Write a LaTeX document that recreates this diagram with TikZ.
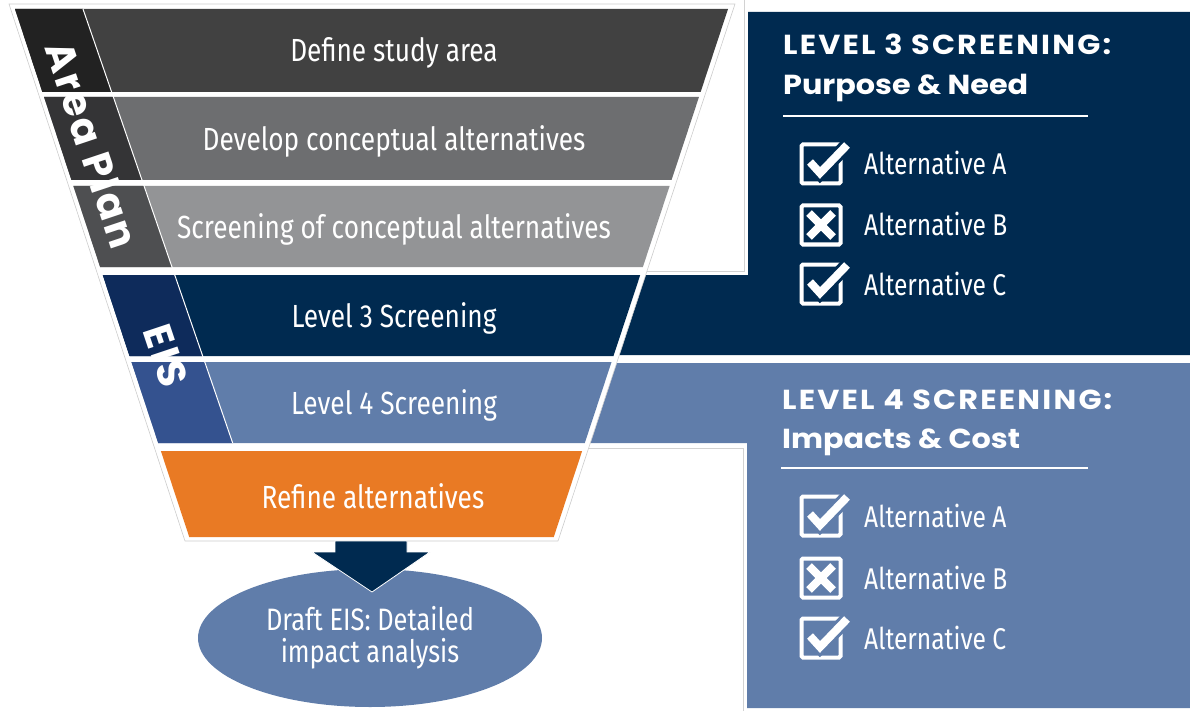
\documentclass[tikz,border=0pt]{standalone}
\usepackage{fontspec}
\setmainfont{Fira Sans}
\newfontfamily\narrowfont[FakeStretch=0.82]{Fira Sans}
\newfontfamily\headfont[FakeStretch=1.1]{Poppins}
\newfontfamily\capsfont[FakeStretch=1.1, LetterSpace=8]{Poppins}
\newfontfamily\sidefont[LetterSpace=6]{Poppins}
\usetikzlibrary{shapes.geometric}

\definecolor{navyBlue}{HTML}{002A50}
\definecolor{steelBlue}{HTML}{607DAA}
\definecolor{bandOne}{HTML}{414141}
\definecolor{bandTwo}{HTML}{6D6E70}
\definecolor{bandThree}{HTML}{939496}
\definecolor{stripOne}{HTML}{222222}
\definecolor{stripTwo}{HTML}{343436}
\definecolor{stripThree}{HTML}{4E4F51}
\definecolor{stripFour}{HTML}{0E2B5B}
\definecolor{stripFive}{HTML}{34528F}
\definecolor{refineOrange}{HTML}{E97A24}

\tikzstyle{bandText} = [text=white, inner sep=0, font=\narrowfont\fontsize{32}{32}\selectfont]
\tikzstyle{sideText} = [text=white, inner sep=0, rotate=-71.5, font=\sidefont\bfseries\fontsize{40}{40}\selectfont]
\tikzstyle{headText} = [text=white, inner sep=0, anchor=base west, font=\headfont\bfseries\fontsize{27.5}{28}\selectfont]
\tikzstyle{capsText} = [headText, font=\capsfont\bfseries\fontsize{27.5}{28}\selectfont]
\tikzstyle{altText} = [text=white, inner sep=0, anchor=base west, font=\narrowfont\fontsize{30}{30}\selectfont]
\tikzstyle{tickBox} = [draw=white, line width=4pt, minimum size=39pt, inner sep=0, rounded corners=1.5pt]
\tikzstyle{frameLine} = [draw=gray!35, line width=0.8pt]
\tikzstyle{ruleLine} = [draw=white, line width=1.5pt]
\tikzstyle{draftPart} = [ellipse, fill=steelBlue, minimum width=344pt, minimum height=138pt, text=white, align=center, font=\narrowfont\fontsize{31}{32}\selectfont]

\begin{document}
\begin{tikzpicture}[x=1pt, y=-1pt]
	\useasboundingbox (0,0) rectangle (1190,711);

	% screening panels, they run in behind the funnel
	\fill[navyBlue] (748,12) -- (1190,12) -- (1190,355) -- (400,355) -- (400,275) -- (748,275) -- cycle;
	\fill[steelBlue] (400,363) -- (1190,363) -- (1190,708) -- (747,708) -- (747,443) -- (400,443) -- cycle;

	% thin frames of the white areas
	\draw[frameLine] (640,271) -- (744,271) -- (744,0);
	\draw[frameLine] (580,448) -- (743,448) -- (743,711);

	% funnel outline
	\path[fill=white, draw=gray!40, line width=0.6pt] (9,4) -- (735,4) -- (558,541) -- (185,541) -- cycle;

	% funnel bands: top / bottom / colour
	\foreach \t/\b/\col in {9/92/bandOne, 97/180/bandTwo, 186/267/bandThree, 275/356/navyBlue, 362/443/steelBlue, 451/537/refineOrange}
		\fill[\col] ({15+0.33*(\t-9)},\t) -- ({728-0.33*(\t-9)},\t) -- ({728-0.33*(\b-9)},\b) -- ({15+0.33*(\b-9)},\b) -- cycle;

	% side strips of the first five bands
	\foreach \t/\b/\col in {9/92/stripOne, 97/180/stripTwo, 186/267/stripThree, 275/356/stripFour, 362/443/stripFive}
		\fill[\col] ({15+0.33*(\t-9)},\t) -- ({83+0.345*(\t-9)},\t) -- ({83+0.345*(\b-9)},\b) -- ({15+0.33*(\b-9)},\b) -- cycle;
	\draw[white, line width=1pt] (83,9) -- (232.7,443);

	\path (92,145) node (areaPlan) [sideText] {Area Plan};
	\path (166,356) node (eis) [sideText] {EIS};

	% band labels
	\path (394,53) node (defineArea) [bandText] {Define study area};
	\path (defineArea)+(0,88) node (developAlt) [bandText] {Develop conceptual alternatives};
	\path (developAlt)+(0,88) node (screenAlt) [bandText] {Screening of conceptual alternatives};
	\path (screenAlt)+(0,89) node (levelThree) [bandText] {Level 3 Screening};
	\path (levelThree)+(0,87) node (levelFour) [bandText] {Level 4 Screening};
	\path (373,496) node (refineAlt) [bandText] {Refine alternatives};

	% result of the funnel
	\path (370,638) node (draftEIS) [draftPart] {Draft EIS: Detailed\\impact analysis};
	\path[fill=navyBlue, draw=white, line width=0.8pt] (335,541) -- (407,541) -- (407,552) -- (430,552) -- (372,592) -- (312,552) -- (335,552) -- cycle;

	% level 3 panel
	\path (783,55) node (lThreeHead) [capsText] {LEVEL 3 SCREENING:};
	\path (lThreeHead.base west)+(0,40) node (lThreeSub) [headText] {Purpose \& Need};
	\draw[ruleLine] (783,116) -- (1088,116);
	\foreach \y/\alt in {164/A, 225/B, 284/C} {
		\path (821,\y) node (lThreeBox\alt) [tickBox] {};
		\path (lThreeBox\alt.center)+(43,11) node (lThreeAlt\alt) [altText] {Alternative \alt};
	}

	% level 4 panel
	\path (782,409) node (lFourHead) [capsText] {LEVEL 4 SCREENING:};
	\path (lFourHead.base west)+(0,39) node (lFourSub) [headText] {Impacts \& Cost};
	\draw[ruleLine] (781,468) -- (1088,468);
	\foreach \y/\alt in {516/A, 578/B, 638/C} {
		\path (821,\y) node (lFourBox\alt) [tickBox] {};
		\path (lFourBox\alt.center)+(43,11) node (lFourAlt\alt) [altText] {Alternative \alt};
	}

	% ticks and crosses
	\foreach \b/\bg in {lThreeBoxA/navyBlue, lThreeBoxC/navyBlue, lFourBoxA/steelBlue, lFourBoxC/steelBlue} {
		\draw[\bg, line width=14pt, line join=miter] (\b.center) ++(-11,-2) -- ++(10,11) -- ++(27,-28);
		\draw[white, line width=8pt, line join=miter] (\b.center) ++(-11,-2) -- ++(10,11) -- ++(27,-28);
	}
	\foreach \b in {lThreeBoxB, lFourBoxB}
		\draw[white, line width=8pt] (\b.center) ++(-12,-12) -- ++(24,24) ++(0,-24) -- ++(-24,24);
\end{tikzpicture}
\end{document}
